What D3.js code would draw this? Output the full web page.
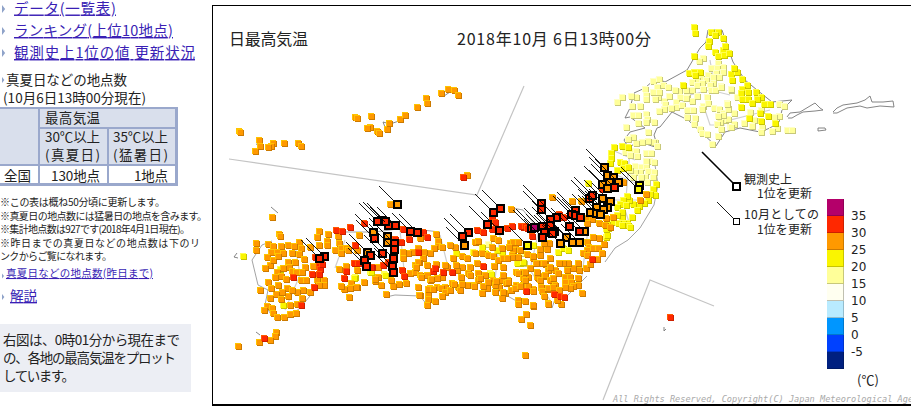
<!DOCTYPE html>
<html><head><meta charset="utf-8">
<style>html,body{margin:0;padding:0;background:#fff;overflow:hidden}svg{display:block}</style>
<script src="https://cdn.jsdelivr.net/npm/d3@7"></script></head>
<body><svg id="c" width="911" height="407"></svg>
<script>
// Legend
const legendTicks=[-5,0,5,10,15,20,25,30,35];
const bandFloors=[-10,-5,0,5,10,15,20,25,30,35];
const bandColors=["#002080","#0041ff","#0096ff","#b9ebff","#fffff0","#ffff99","#faf500","#ff9900","#ff2800","#b4006a"];
const bandShade=["#001a66","#0034cc","#0078cc","#94bccc","#c0c0b0","#c8c87a","#c8c400","#cc7a00","#cc2000","#900055"];
const bandLight=["#2040a0","#2060ff","#30b0ff","#d0f0ff","#ffffff","#ffffc8","#ffff50","#ffc400","#ff5a00","#d02090"];

// Station positions: map easting, map southing, grouped by temperature class
const temp17=[[503,58],[499,61],[518,63],[511,68],[523,67],[517,68],[516,73],[523,72],[519,77],[508,75],[513,77],[501,78],[497,80],[492,82],[513,83],[506,80],[502,83],[497,85],[492,90],[510,85],[511,90],[515,90],[521,86],[503,89],[531,90],[486,90],[479,91],[475,90],[537,97],[527,103],[528,108],[497,96],[487,97],[480,97],[476,102],[469,96],[464,101],[458,97],[453,81],[459,79],[463,85],[457,87],[468,87],[453,92],[459,92],[445,89],[446,95],[446,99],[455,99],[436,97],[431,96],[432,106],[440,106],[417,102],[422,97],[465,104],[464,109],[459,111],[476,107],[471,108],[482,105],[487,110],[493,110],[492,101],[486,98],[507,97],[503,106],[502,109],[508,103],[514,108],[519,109],[523,113],[534,113],[519,117],[525,120],[520,122],[517,124],[521,129],[530,127],[534,124],[487,117],[495,118],[494,124],[500,129],[502,133],[507,134],[518,136],[512,144],[433,115],[438,115],[446,114],[447,119],[446,122],[454,122],[438,123],[426,127],[448,132],[455,142],[453,142],[448,141],[442,142],[436,143],[433,137],[428,139],[457,146],[425,152],[430,151],[436,151],[437,156],[430,155],[446,153],[451,153],[450,161],[446,161],[435,166],[441,167],[446,167],[454,162],[448,171],[454,172],[440,172],[435,172],[430,170],[433,177],[445,177],[453,177],[447,182],[441,177],[579,104],[584,106],[550,112],[561,110],[579,116],[574,117],[554,120],[544,123],[552,126],[562,127],[577,128],[572,131],[561,132],[587,130],[592,130],[531,127],[528,119],[523,115],[518,116],[534,113],[528,109],[527,104],[531,89],[521,87],[288,244],[323,253],[324,263]];
const temp22=[[494,27],[495,33],[511,32],[518,32],[515,35],[509,41],[523,38],[508,46],[515,52],[523,50],[525,46],[518,56],[524,55],[529,53],[494,56],[489,73],[494,72],[500,72],[495,75],[483,85],[531,74],[537,72],[532,80],[534,68],[542,79],[547,85],[542,89],[541,93],[548,92],[556,92],[561,97],[542,99],[548,99],[557,99],[552,103],[564,104],[570,104],[541,107],[549,118],[561,121],[568,116],[575,123],[560,113],[414,147],[422,146],[428,147],[411,153],[411,158],[410,163],[420,162],[424,163],[417,170],[423,168],[428,167],[388,183],[456,184],[453,189],[455,195],[450,194],[448,200],[444,203],[439,206],[433,204],[429,200],[427,196],[423,200],[420,204],[426,205],[437,210],[432,217],[427,223],[422,218],[423,223],[408,228],[406,237],[417,207],[422,212],[417,215],[413,222],[418,223],[428,225],[430,227],[422,225],[407,235],[406,229],[407,224],[358,252],[363,248],[368,250],[333,245],[302,253],[318,259],[320,263],[325,276],[307,280],[256,253],[273,252],[282,247],[285,253],[297,250],[317,263],[323,262],[290,273],[267,258],[184,274],[155,277],[170,272],[43,256],[80,269],[83,305],[154,278],[171,272],[291,274],[185,275]];
const temp27=[[352,197],[372,201],[381,201],[446,194],[440,200],[413,217],[386,218],[392,219],[406,218],[387,223],[399,223],[405,225],[410,227],[423,182],[190,204],[311,209],[236,234],[220,238],[238,241],[238,246],[275,242],[278,241],[293,238],[298,240],[310,243],[315,245],[313,250],[292,247],[302,248],[255,247],[250,245],[242,247],[234,248],[230,253],[224,252],[218,248],[213,252],[208,253],[203,252],[203,258],[223,258],[219,262],[215,265],[210,273],[215,272],[220,275],[230,280],[237,278],[242,277],[247,267],[253,258],[262,256],[267,258],[275,253],[282,253],[288,255],[293,256],[298,260],[303,258],[312,255],[318,257],[277,263],[270,267],[262,267],[257,270],[268,273],[278,273],[278,280],[285,275],[273,285],[267,285],[258,287],[252,283],[245,287],[237,287],[230,288],[228,295],[220,295],[218,287],[206,283],[199,284],[193,286],[186,294],[181,285],[178,277],[164,282],[157,287],[151,283],[293,280],[302,280],[308,280],[316,285],[323,277],[323,285],[305,293],[299,287],[287,288],[282,293],[175,281],[191,280],[219,295],[228,289],[228,299],[227,305],[235,301],[233,289],[241,288],[245,292],[242,296],[250,290],[254,284],[260,290],[262,284],[274,286],[283,286],[288,282],[295,292],[295,285],[302,298],[303,292],[306,283],[311,290],[315,288],[320,286],[318,300],[318,304],[325,301],[333,306],[326,314],[321,319],[330,325],[325,355],[341,288],[344,296],[348,303],[348,289],[333,289],[328,286],[218,262],[227,265],[227,275],[221,277],[216,267],[236,264],[237,278],[231,279],[245,265],[256,265],[261,277],[270,275],[280,278],[296,281],[303,275],[303,267],[294,266],[316,272],[323,272],[328,277],[338,278],[340,263],[345,264],[343,276],[348,270],[387,242],[389,247],[387,250],[383,253],[387,255],[393,248],[398,248],[402,253],[404,244],[399,238],[393,237],[397,259],[386,268],[390,264],[379,270],[378,278],[378,263],[373,268],[368,263],[367,270],[363,263],[359,263],[355,270],[350,258],[344,263],[340,255],[347,249],[340,249],[349,243],[344,243],[333,258],[327,254],[333,256],[336,263],[330,268],[318,273],[337,277],[345,275],[350,280],[353,278],[355,285],[365,277],[370,277],[365,282],[371,282],[378,285],[373,286],[370,288],[365,287],[341,287],[342,291],[348,288],[353,287],[359,290],[344,296],[382,293],[348,304],[361,304],[357,300],[333,291],[333,305],[350,267],[358,273],[340,280],[337,272],[323,278],[320,250],[313,242],[318,242],[309,247],[312,257],[307,258],[308,282],[325,280],[325,272],[72,217],[79,234],[80,236],[56,243],[56,250],[68,244],[73,246],[81,246],[88,245],[99,242],[94,246],[101,248],[110,247],[119,245],[127,241],[128,234],[119,231],[117,237],[127,245],[139,243],[138,236],[135,250],[141,248],[146,248],[141,253],[148,250],[157,250],[159,235],[146,266],[139,269],[157,270],[164,282],[156,287],[150,288],[144,289],[141,286],[149,297],[178,267],[175,279],[71,252],[67,257],[77,252],[83,253],[92,253],[99,254],[70,265],[65,268],[73,260],[78,256],[88,262],[89,267],[95,262],[104,259],[105,267],[113,266],[92,271],[96,272],[102,272],[83,268],[77,272],[81,276],[86,279],[75,277],[68,282],[78,285],[101,280],[106,280],[117,280],[124,280],[124,285],[119,285],[110,292],[103,290],[97,292],[88,296],[87,288],[92,290],[82,292],[76,294],[71,288],[60,290],[70,298],[81,299],[102,298],[97,304],[90,305],[67,306],[64,310],[72,308],[73,313],[77,317],[84,317],[90,314],[96,313],[76,332],[75,336],[70,340],[59,342],[38,346],[39,131],[40,132],[59,140],[60,146],[55,151],[73,143],[71,146],[68,147],[84,143],[98,143],[101,146],[155,117],[157,118],[171,116],[170,127],[167,128],[177,131],[179,133],[187,129],[189,123],[200,119],[205,115],[217,107],[226,98],[227,103],[241,93],[248,89],[254,90],[258,95],[267,175]];
const temp32=[[402,189],[359,214],[363,217],[323,227],[332,236],[164,223],[195,239],[201,242],[209,239],[203,229],[223,232],[227,237],[277,230],[283,232],[292,218],[295,222],[292,229],[307,228],[312,226],[321,226],[325,226],[327,228],[218,252],[233,271],[235,268],[243,272],[252,272],[283,266],[202,270],[204,276],[188,262],[183,265],[172,267],[155,245],[154,263],[392,259],[326,291],[354,294],[360,296],[364,297],[470,317],[263,177],[93,277],[114,287],[101,305],[119,266],[120,269],[112,274],[119,274],[64,338],[146,271],[144,278],[150,227],[136,230],[142,231],[115,257],[122,264],[158,263],[171,267]];

// Stations that set a new October record
const recordOrange=[[404,167],[407,175],[413,177],[409,182],[402,184],[418,182],[407,188],[402,198],[410,201],[396,207],[407,207],[403,209],[390,212],[396,213],[400,214],[384,231],[366,237],[372,242],[379,242],[360,243],[264,245],[197,204],[173,232],[187,236],[187,242],[167,252]];
const recordRed=[[414,187],[389,198],[392,195],[341,203],[341,209],[375,210],[371,214],[375,215],[380,217],[356,217],[350,219],[350,225],[342,226],[331,228],[344,232],[342,237],[354,231],[352,233],[369,226],[379,231],[300,208],[293,212],[287,224],[299,230],[268,232],[262,236],[195,225],[188,225],[181,220],[177,221],[185,221],[210,231],[217,232],[174,238],[194,243],[182,253],[194,249],[170,255],[164,260],[166,266],[193,258],[192,266],[193,272],[124,256],[119,258]];
const recordMagenta=[[334,227]];
const recordYellow=[[439,185],[438,189],[327,245]];

// Coast and boundary polylines, map easting / southing
const coasts=[
[[508,30],[522,30],[527,45],[533,62],[545,80],[557,90],[572,102],[592,100],[582,110],[579,122],[570,128],[560,132],[540,128],[525,132],[516,146],[502,133],[488,120],[472,112],[460,127],[457,128],[454,135],[458,148],[440,142],[428,147],[424,140],[430,132],[445,128],[430,117],[425,118],[430,108],[434,93],[445,88],[456,78],[465,82],[487,70],[500,48],[506,42],[508,30]],
[[587,117],[590,113],[600,112],[615,103],[620,108],[623,110],[615,111],[603,112],[597,115],[592,118],[588,118]],
[[633,112],[637,108],[643,105],[657,103],[665,100],[670,96],[672,102],[683,102],[693,101],[694,107],[680,106],[667,108],[660,106],[647,108],[637,113],[633,113]],
[[618,128],[625,128],[626,130],[618,131],[618,128]],
[[464,327],[464,331],[466,329]],[[37,253],[34,257],[38,258]],[[60,335],[56,332]],[[71,207],[78,213]],
[[241,93],[247,90],[250,92],[244,96]],[[185,127],[183,122],[190,124],[199,121]],[[62,146],[56,144]],[[101,147],[104,149]]
];
const mainCoasts=[
[[455,165],[458,185],[454,205],[440,228],[428,240],[415,248],[405,262]],
[[387,276],[378,285],[368,295],[356,296],[352,308],[346,299]],
[[320,303],[304,294],[295,288]],
[[228,306],[220,296],[195,295],[186,297]],
[[125,285],[115,290],[100,308],[85,320],[72,316],[65,305],[68,290],[58,285],[52,260],[62,245],[72,241]],
[[145,232],[175,232],[205,228],[240,232]],
[[312,208],[323,210],[335,225]]
];
const boundaries=[
[[470,112],[480,105],[490,95],[510,90],[530,95]],[[515,90],[510,60]],[[505,110],[510,125],[525,125]],[[520,110],[530,120],[570,110]],
[[412,150],[435,160]],[[430,150],[425,210],[430,225]],[[405,170],[440,185]],[[400,200],[450,200]],[[390,215],[380,290]],
[[300,235],[295,280]],[[340,225],[330,270],[350,300]],[[200,230],[205,280]],[[240,235],[250,275]],[[145,240],[135,268]],[[95,245],[100,275],[85,310]]
];
const insetLines=[[[29,159],[277,195],[324,86]],[[403,400],[450,280],[514,306]]];

// Left panel text
const linkLabels=["データ(一覧表)","ランキング(上位10地点)","観測史上1位の値 更新状況"];
const noteLines=["※この表は概ね50分頃に更新します。","※真夏日の地点数には猛暑日の地点を含みます。","※集計地点数は927です(2018年4月1日現在)。","※昨日までの真夏日などの地点数は下のリ","ンクからご覧になれます。"];
const boxLines=["右図は、0時01分から現在まで","の、各地の最高気温をプロット","しています。"];

const svg=d3.select("#c");
const JP="'Noto Sans CJK JP','Noto Sans',sans-serif";
function txt(x,y,s,size,w,fill,ul){
  const n=svg.append("text").attr("x",x).attr("y",y).text(s).attr("font-family",JP).attr("font-size",size).attr("fill",fill||"#222");
  if(w) n.attr("textLength",w).attr("lengthAdjust","spacing");
  if(ul) n.attr("text-decoration","underline");
  return n;
}
function rect(x,y,w,h,f){return svg.append("rect").attr("x",x).attr("y",y).attr("width",w).attr("height",h).attr("fill",f).attr("shape-rendering","crispEdges");}
const LINK="#3a1fb5",BUL="#8fa3c9";
function tri(x,y,s){svg.append("path").attr("d",`M${x},${y-s}L${x+s*.8},${y}L${x},${y+s}Z`).attr("fill",BUL);}

// left panel
const linkY=[13.5,36,58],linkW=[102,159,181];
linkLabels.forEach((s,i)=>{tri(2,[9,31,53][i],4);txt(14,linkY[i],s,14.5,linkW[i],LINK,true);});
tri(2,80,3);
txt(6,84.5,"真夏日などの地点数",13.5,121);
txt(3,103,"(10月6日13時00分現在)",13.5,143);
rect(0,107,178,79,"#9aa8cc");
rect(0,109,38,55,"#d9dfec");rect(40,109,135,18,"#d9dfec");rect(40,129,67,35,"#d9dfec");rect(109,129,66,35,"#d9dfec");
rect(0,166,38,17,"#fff");rect(40,166,67,17,"#fff");rect(109,166,66,17,"#fff");
txt(45,123,"最高気温",13.5,55);
txt(45,142,"30℃以上",13.5,55);txt(45,160,"(真夏日)",13.5,55);
txt(113,142,"35℃以上",13.5,55);txt(113,160,"(猛暑日)",13.5,55);
txt(4,181,"全国",13.5,27);txt(51,181,"130地点",13.5,49);txt(134,181,"1地点",13.5,34);
const noteY=[206,219.5,233,246.5,259.5],noteW=[165,207,190,200,112];
noteLines.forEach((s,i)=>txt(0,noteY[i],s,10,noteW[i]));
tri(2,276,2.5);txt(6,277,"真夏日などの地点数(昨日まで)",10.5,147,LINK,true);
tri(2,297,3);txt(10,301,"解説",13.5,27,LINK,true);
rect(0,324,191,68,"#eceef4");
boxLines.forEach((s,i)=>txt(3,[345,363,381][i],s,13.5,[177,173,72][i]));

// frame
svg.append("path").attr("d","M911,5.5H212.5V405H911").attr("fill","none").attr("stroke","#000").attr("stroke-width",1.5).attr("shape-rendering","crispEdges");

// scales
const mx=d3.scaleLinear().domain([0,711]).range([200,911]);
const my=d3.scaleLinear().domain([0,407]).range([0,407]);
const tColor=d3.scaleThreshold().domain(bandFloors.slice(1)).range(bandColors);
const tShade=d3.scaleThreshold().domain(bandFloors.slice(1)).range(bandShade);
const tLight=d3.scaleThreshold().domain(bandFloors.slice(1)).range(bandLight);
const line=d3.line().x(d=>mx(d[0])).y(d=>my(d[1]));

const map=svg.append("g");
map.append("g").selectAll("path").data(insetLines).join("path").attr("d",line).attr("fill","none").attr("stroke","#c4c4c4").attr("stroke-width",1.2);
map.append("g").selectAll("path").data(boundaries).join("path").attr("d",line).attr("fill","none").attr("stroke","#cfcfcf").attr("stroke-width",1.2);
map.append("g").selectAll("path").data(mainCoasts).join("path").attr("d",line).attr("fill","none").attr("stroke","#999").attr("stroke-width",.9);
map.append("g").selectAll("path").data(coasts).join("path").attr("d",line).attr("fill","none").attr("stroke","#777").attr("stroke-width",.9);

// stations
const groups=[[temp17,17],[temp22,22],[temp27,27],[temp32,32]];
groups.forEach(([pts,t])=>{
  const g=map.append("g").attr("shape-rendering","crispEdges");
  const m=g.selectAll("g").data(pts).join("g").attr("transform",d=>`translate(${Math.round(mx(d[0]))},${Math.round(my(d[1]))})`);
  m.append("rect").attr("x",-3).attr("y",-3).attr("width",6).attr("height",6).attr("fill",tLight(t));
  m.append("rect").attr("x",-2).attr("y",-2).attr("width",6).attr("height",6).attr("fill",tShade(t));
  m.append("rect").attr("x",-2).attr("y",-2).attr("width",5).attr("height",5).attr("fill",tColor(t));
});
// records
const recs=[[recordYellow,22],[recordOrange,27],[recordRed,32],[recordMagenta,37]];
const lead=18;
recs.forEach(([pts,t])=>{
  map.append("g").selectAll("rect").data(pts).join("rect").attr("x",d=>Math.round(mx(d[0]))-3).attr("y",d=>Math.round(my(d[1]))-3).attr("width",7).attr("height",7)
    .attr("fill",tColor(t)).attr("stroke","#000").attr("stroke-width",1.5).attr("shape-rendering","crispEdges");
});
recs.forEach(([pts])=>{
  map.append("g").selectAll("line").data(pts).join("line").attr("x1",d=>mx(d[0])-3).attr("y1",d=>my(d[1])-3).attr("x2",d=>mx(d[0])-lead).attr("y2",d=>my(d[1])-lead)
    .attr("stroke","#000").attr("stroke-width",.9);
});

// titles
txt(229,45,"日最高気温",16,79);
txt(457,45,"2018年10月 6日13時00分",16,194);

// legend keys
svg.append("line").attr("x1",702).attr("y1",152).attr("x2",734).attr("y2",184).attr("stroke","#000").attr("stroke-width",1.6);
svg.append("rect").attr("x",733).attr("y",183).attr("width",7).attr("height",7).attr("fill","#fff").attr("stroke","#000").attr("stroke-width",2.2).attr("shape-rendering","crispEdges");
svg.append("line").attr("x1",717).attr("y1",202).attr("x2",734).attr("y2",219).attr("stroke","#000").attr("stroke-width",.9);
svg.append("rect").attr("x",733.5).attr("y",218.5).attr("width",6).attr("height",6).attr("fill","#fff").attr("stroke","#000").attr("stroke-width",1).attr("shape-rendering","crispEdges");
txt(744,183.5,"観測史上",12,48);txt(757,198,"1位を更新",12,55);
txt(744,218.5,"10月としての",12,75);txt(757,233.5,"1位を更新",12,55);

// colour bar
const cy=d3.scaleLinear().domain([-10,40]).range([369,199]);
const bar=svg.append("g").attr("shape-rendering","crispEdges");
bandFloors.forEach((f,i)=>{
  bar.append("rect").attr("x",827).attr("y",cy(f+5)).attr("width",17).attr("height",cy(f)-cy(f+5)).attr("fill",bandColors[i]);
  bar.append("rect").attr("x",827).attr("y",cy(f)-1).attr("width",17).attr("height",1).attr("fill",bandShade[i]);
  bar.append("rect").attr("x",843).attr("y",cy(f+5)).attr("width",1).attr("height",cy(f)-cy(f+5)).attr("fill",bandShade[i]);
});
const axis=d3.axisRight(cy).tickValues(legendTicks).tickSize(0).tickPadding(0).tickFormat(d=>d);
const ag=svg.append("g").attr("transform","translate(851,0)").call(axis);
ag.select(".domain").remove();
ag.selectAll("text").attr("font-family","'DejaVu Sans',sans-serif").attr("font-size",12).attr("fill","#222").attr("x",0);
svg.append("text").attr("x",857).attr("y",385).text("(℃)").attr("font-family",JP).attr("font-size",13).attr("fill","#222");

// copyright
svg.append("text").attr("x",613).attr("y",402).text("All Rights Reserved, Copyright(C) Japan Meteorological Agency").attr("font-family","'DejaVu Sans Mono',monospace").attr("font-style","italic").attr("font-size",8.6).attr("fill","#aaa");
</script></body></html>
